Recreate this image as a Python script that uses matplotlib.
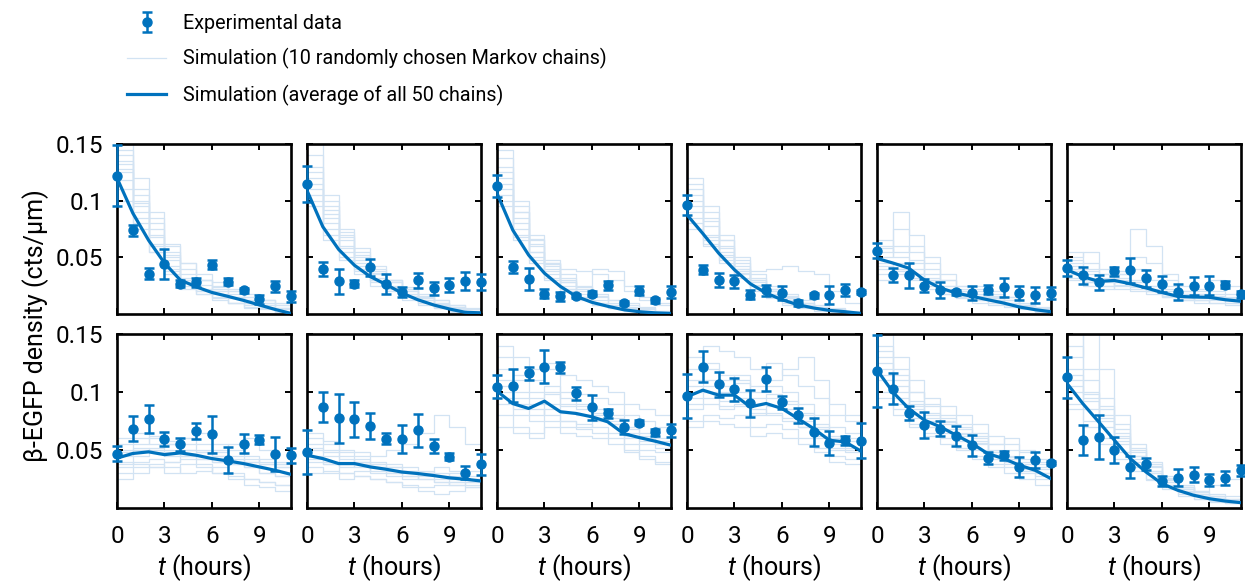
import numpy as np
import matplotlib
matplotlib.use('Agg')
import matplotlib.pyplot as plt

plt.rcParams['font.family'] = ['Roboto', 'DejaVu Sans']
plt.rcParams['mathtext.fontset'] = 'custom'
plt.rcParams['mathtext.it'] = 'Roboto:italic'
plt.rcParams['mathtext.rm'] = 'Roboto'

# ---------------- data ----------------
hours = list(range(12))
xtick_vals = [0, 3, 6, 9]
xtick_labels = ['0', '3', '6', '9']
ytick_vals = [0.05, 0.1, 0.15]
ytick_labels = ['0.05', '0.1', '0.15']

legend_labels = ['Experimental data',
                 'Simulation (10 randomly chosen Markov chains)',
                 'Simulation (average of all 50 chains)']
ylabel_text = 'β-EGFP density (cts/μm)'
xlabel_text = '$t$ (hours)'

# experimental means (cts/um), 12 panels row by row
exp_mean = [
    [0.122, 0.0737, 0.0355, 0.0443, 0.0267, 0.028, 0.0434, 0.0285, 0.0208, 0.0132, 0.0244, 0.0156],
    [0.1145, 0.0396, 0.0288, 0.0267, 0.0414, 0.0264, 0.0194, 0.0296, 0.0226, 0.0258, 0.0288, 0.028],
    [0.113, 0.0414, 0.0308, 0.0179, 0.0156, 0.016, 0.018, 0.0252, 0.0097, 0.0205, 0.012, 0.0194],
    [0.0963, 0.039, 0.030, 0.0288, 0.017, 0.0208, 0.0185, 0.0097, 0.0164, 0.0164, 0.0214, 0.0194],
    [0.056, 0.0346, 0.034, 0.025, 0.0208, 0.019, 0.0185, 0.0214, 0.0235, 0.0185, 0.017, 0.0185],
    [0.0405, 0.034, 0.028, 0.0376, 0.0385, 0.0317, 0.0267, 0.0194, 0.025, 0.025, 0.0258, 0.0173],
    [0.0469, 0.0685, 0.0766, 0.0593, 0.055, 0.0665, 0.0636, 0.0412, 0.0556, 0.059, 0.0464, 0.0455],
    [0.0484, 0.0872, 0.0772, 0.0763, 0.0705, 0.0599, 0.0593, 0.067, 0.0535, 0.044, 0.0305, 0.0377],
    [0.1045, 0.1054, 0.116, 0.1218, 0.1212, 0.0988, 0.0867, 0.0815, 0.070, 0.0737, 0.0651, 0.067],
    [0.0964, 0.1218, 0.1065, 0.1022, 0.0901, 0.1111, 0.091, 0.080, 0.0656, 0.0561, 0.0584, 0.0579],
    [0.1183, 0.103, 0.082, 0.0714, 0.0685, 0.0622, 0.0541, 0.0432, 0.0455, 0.0354, 0.0412, 0.0389],
    [0.1126, 0.0585, 0.0613, 0.0498, 0.0354, 0.0377, 0.0233, 0.0262, 0.0288, 0.0239, 0.0259, 0.0325],
]
exp_err = [
    [0.027, 0.005, 0.005, 0.013, 0.003, 0.004, 0.004, 0.003, 0.002, 0.004, 0.005, 0.005],
    [0.016, 0.006, 0.011, 0.003, 0.0075, 0.009, 0.004, 0.0065, 0.006, 0.006, 0.008, 0.007],
    [0.010, 0.005, 0.0095, 0.004, 0.004, 0.002, 0.002, 0.004, 0.002, 0.004, 0.002, 0.005],
    [0.009, 0.004, 0.006, 0.006, 0.004, 0.005, 0.006, 0.003, 0.002, 0.008, 0.0055, 0.002],
    [0.007, 0.006, 0.011, 0.0055, 0.007, 0.002, 0.006, 0.004, 0.0085, 0.006, 0.007, 0.005],
    [0.007, 0.0075, 0.0065, 0.004, 0.011, 0.0075, 0.007, 0.007, 0.008, 0.0085, 0.003, 0.003],
    [0.0063, 0.0104, 0.0122, 0.006, 0.0056, 0.0068, 0.016, 0.011, 0.0078, 0.004, 0.0144, 0.0063],
    [0.019, 0.0127, 0.021, 0.015, 0.011, 0.0045, 0.0122, 0.0144, 0.0063, 0.003, 0.0055, 0.009],
    [0.0098, 0.0143, 0.0058, 0.0144, 0.005, 0.0058, 0.0108, 0.004, 0.0058, 0.002, 0.003, 0.0058],
    [0.0187, 0.0133, 0.0105, 0.0098, 0.012, 0.0102, 0.0058, 0.0063, 0.0118, 0.0105, 0.004, 0.015],
    [0.031, 0.013, 0.0062, 0.0112, 0.0068, 0.0086, 0.009, 0.005, 0.004, 0.0086, 0.0069, 0.002],
    [0.0177, 0.0127, 0.0187, 0.011, 0.0096, 0.005, 0.004, 0.0072, 0.0063, 0.0053, 0.0058, 0.0046],
]
# simulation average of all chains (cts/um)
sim_avg = [
    [0.120, 0.089, 0.065, 0.045, 0.030, 0.024, 0.019, 0.0156, 0.012, 0.008, 0.004, 0.0005],
    [0.109, 0.077, 0.057, 0.043, 0.033, 0.026, 0.0185, 0.0126, 0.008, 0.0044, 0.0015, 0.001],
    [0.1065, 0.074, 0.052, 0.036, 0.0244, 0.0156, 0.0103, 0.0068, 0.0038, 0.002, 0.001, 0.0005],
    [0.0875, 0.071, 0.0537, 0.039, 0.0267, 0.0185, 0.0126, 0.0082, 0.0053, 0.0032, 0.002, 0.0005],
    [0.049, 0.045, 0.0405, 0.030, 0.023, 0.0185, 0.0156, 0.0126, 0.0097, 0.0062, 0.0038, 0.002],
    [0.039, 0.033, 0.0288, 0.0296, 0.0267, 0.023, 0.019, 0.0156, 0.015, 0.0147, 0.0126, 0.0112],
    [0.043, 0.047, 0.0484, 0.046, 0.0475, 0.0455, 0.0426, 0.0406, 0.0383, 0.0354, 0.0325, 0.029],
    [0.0455, 0.0426, 0.0383, 0.0383, 0.0354, 0.0334, 0.031, 0.0297, 0.028, 0.026, 0.0248, 0.0233],
    [0.1008, 0.090, 0.0858, 0.0921, 0.083, 0.0815, 0.0786, 0.0743, 0.0642, 0.0607, 0.0576, 0.0541],
    [0.0959, 0.1016, 0.0973, 0.0973, 0.0872, 0.0901, 0.0858, 0.0772, 0.0685, 0.0584, 0.057, 0.049],
    [0.119, 0.100, 0.0858, 0.0757, 0.070, 0.0628, 0.0556, 0.0469, 0.0426, 0.0369, 0.0325, 0.0253],
    [0.1074, 0.090, 0.0743, 0.0584, 0.0426, 0.031, 0.021, 0.0153, 0.011, 0.008, 0.006, 0.0046],
]
# 10 Markov chains per panel, hourly values in units of 0.001 cts/um
chains = [
    [[140, 110, 80, 55, 40, 30, 25, 20, 15, 10, 8, 5],
     [125, 85, 62, 40, 28, 20, 24, 15, 10, 12, 5, 3],
     [150, 120, 90, 60, 45, 35, 28, 22, 18, 12, 10, 5],
     [110, 80, 55, 35, 22, 18, 12, 10, 8, 5, 2, 0],
     [135, 100, 75, 50, 35, 30, 20, 15, 12, 10, 5, 2],
     [118, 95, 70, 48, 30, 22, 18, 18, 12, 8, 5, 0],
     [145, 90, 60, 42, 28, 20, 15, 10, 5, 5, 2, 0],
     [128, 105, 85, 62, 45, 30, 22, 20, 15, 12, 8, 4],
     [100, 75, 55, 38, 25, 18, 14, 10, 6, 4, 2, 0],
     [132, 98, 68, 52, 32, 26, 20, 14, 10, 6, 4, 2]],
    [[130, 95, 70, 50, 38, 30, 22, 15, 10, 6, 3, 2],
     [115, 80, 55, 45, 30, 25, 18, 12, 8, 5, 2, 0],
     [150, 105, 75, 55, 42, 30, 20, 15, 10, 5, 3, 1],
     [100, 70, 50, 38, 30, 22, 15, 10, 6, 2, 0, 0],
     [120, 88, 65, 48, 36, 28, 22, 16, 12, 8, 5, 3],
     [110, 75, 60, 40, 32, 24, 16, 10, 5, 3, 2, 0],
     [140, 100, 68, 52, 35, 28, 20, 14, 9, 6, 4, 2],
     [95, 65, 48, 35, 25, 20, 12, 8, 5, 2, 1, 0],
     [125, 92, 72, 58, 40, 30, 24, 18, 12, 8, 4, 2],
     [105, 85, 58, 42, 28, 22, 18, 12, 7, 4, 2, 1]],
    [[130, 90, 65, 45, 35, 25, 18, 12, 8, 5, 3, 1],
     [110, 70, 50, 35, 22, 15, 10, 6, 4, 2, 1, 0],
     [145, 100, 70, 48, 40, 38, 35, 30, 20, 12, 8, 4],
     [100, 65, 45, 30, 20, 12, 8, 5, 3, 1, 0, 0],
     [120, 85, 60, 42, 28, 18, 12, 8, 5, 3, 2, 1],
     [95, 75, 55, 38, 25, 20, 40, 38, 25, 15, 10, 5],
     [125, 80, 55, 40, 28, 15, 10, 8, 5, 3, 1, 0],
     [115, 90, 62, 45, 30, 22, 15, 10, 6, 4, 2, 1],
     [105, 68, 48, 32, 22, 14, 8, 5, 3, 2, 1, 0],
     [138, 95, 66, 44, 32, 24, 16, 12, 10, 6, 3, 2]],
    [[110, 85, 65, 45, 32, 22, 15, 10, 6, 4, 2, 1],
     [95, 70, 55, 40, 28, 20, 14, 8, 5, 3, 2, 0],
     [120, 95, 70, 50, 38, 40, 42, 38, 35, 20, 10, 5],
     [85, 65, 48, 35, 22, 15, 10, 6, 4, 2, 1, 0],
     [100, 78, 60, 42, 30, 22, 16, 10, 6, 4, 2, 1],
     [80, 68, 52, 38, 25, 18, 12, 7, 4, 2, 1, 0],
     [105, 90, 65, 48, 35, 25, 18, 12, 8, 5, 3, 2],
     [90, 60, 45, 32, 20, 14, 8, 5, 3, 2, 1, 0],
     [115, 82, 58, 40, 30, 20, 14, 10, 6, 3, 2, 1],
     [75, 62, 50, 36, 26, 18, 12, 8, 5, 3, 2, 1]],
    [[60, 75, 55, 40, 30, 22, 18, 15, 12, 8, 5, 3],
     [45, 40, 35, 28, 20, 15, 12, 10, 8, 5, 3, 2],
     [55, 90, 70, 50, 35, 25, 20, 16, 12, 8, 5, 3],
     [40, 35, 30, 25, 18, 15, 12, 10, 8, 5, 3, 1],
     [65, 55, 60, 45, 30, 25, 22, 18, 15, 10, 6, 4],
     [35, 45, 40, 30, 22, 18, 15, 12, 10, 6, 4, 2],
     [58, 50, 45, 35, 25, 20, 25, 20, 15, 8, 5, 3],
     [42, 38, 32, 22, 18, 14, 10, 8, 6, 4, 2, 1],
     [50, 60, 48, 32, 25, 20, 16, 14, 10, 7, 5, 3],
     [30, 40, 35, 28, 20, 16, 14, 12, 8, 5, 3, 2]],
    [[45, 40, 35, 38, 50, 45, 30, 20, 18, 16, 14, 12],
     [35, 30, 25, 28, 25, 20, 18, 15, 12, 14, 12, 10],
     [50, 55, 40, 35, 75, 60, 35, 25, 20, 18, 15, 12],
     [40, 35, 30, 25, 22, 20, 15, 12, 10, 12, 10, 8],
     [30, 25, 22, 28, 30, 25, 20, 18, 22, 30, 25, 18],
     [55, 45, 35, 32, 28, 22, 18, 14, 12, 10, 8, 7],
     [38, 32, 28, 35, 40, 30, 25, 20, 18, 15, 12, 10],
     [42, 28, 25, 22, 20, 18, 15, 12, 15, 20, 18, 15],
     [48, 38, 32, 30, 28, 25, 22, 18, 16, 14, 12, 10],
     [32, 28, 30, 26, 24, 20, 16, 14, 12, 10, 10, 9]],
    [[50, 55, 60, 55, 50, 48, 45, 42, 40, 38, 35, 30],
     [35, 40, 42, 40, 45, 42, 40, 38, 35, 30, 28, 25],
     [60, 65, 55, 50, 60, 65, 55, 50, 45, 40, 38, 35],
     [30, 35, 38, 35, 30, 32, 35, 30, 25, 22, 20, 18],
     [45, 50, 52, 58, 55, 50, 48, 55, 60, 50, 40, 35],
     [40, 38, 35, 40, 42, 38, 30, 28, 25, 22, 20, 15],
     [55, 60, 62, 55, 60, 55, 50, 45, 40, 42, 38, 32],
     [25, 30, 35, 30, 38, 35, 30, 25, 20, 18, 15, 15],
     [48, 52, 50, 48, 45, 42, 45, 40, 35, 30, 28, 25],
     [38, 45, 48, 45, 50, 48, 40, 38, 42, 38, 35, 30]],
    [[55, 50, 45, 40, 38, 35, 32, 30, 28, 25, 22, 20],
     [40, 38, 35, 38, 32, 30, 28, 25, 22, 20, 18, 15],
     [60, 55, 50, 48, 45, 50, 55, 65, 80, 70, 55, 45],
     [35, 30, 25, 28, 25, 22, 20, 18, 20, 22, 25, 22],
     [50, 48, 42, 40, 35, 32, 30, 28, 25, 22, 20, 18],
     [45, 40, 38, 35, 30, 28, 25, 30, 35, 32, 28, 25],
     [65, 58, 48, 45, 40, 38, 35, 32, 30, 28, 25, 22],
     [30, 32, 30, 28, 25, 22, 18, 15, 12, 15, 18, 20],
     [52, 45, 40, 42, 38, 35, 32, 30, 28, 30, 32, 28],
     [42, 38, 30, 32, 35, 30, 28, 25, 22, 20, 22, 18]],
    [[120, 110, 100, 105, 95, 90, 85, 80, 70, 65, 60, 55],
     [90, 80, 75, 85, 75, 72, 70, 65, 55, 50, 48, 45],
     [140, 130, 120, 125, 115, 110, 105, 100, 90, 85, 80, 75],
     [80, 70, 65, 75, 70, 68, 65, 60, 50, 45, 40, 35],
     [110, 95, 90, 100, 88, 85, 82, 78, 68, 62, 58, 55],
     [100, 90, 85, 80, 75, 70, 75, 72, 60, 55, 52, 50],
     [130, 115, 110, 120, 100, 98, 95, 90, 80, 75, 70, 65],
     [70, 65, 60, 70, 65, 62, 60, 55, 48, 42, 38, 32],
     [105, 100, 95, 98, 90, 88, 80, 75, 65, 60, 55, 52],
     [95, 85, 80, 90, 82, 80, 78, 72, 62, 58, 55, 50]],
    [[110, 120, 115, 110, 100, 105, 100, 90, 80, 70, 65, 55],
     [85, 90, 85, 88, 80, 82, 78, 70, 60, 50, 48, 42],
     [130, 140, 135, 130, 120, 125, 115, 105, 95, 80, 75, 65],
     [75, 80, 78, 80, 70, 72, 68, 60, 52, 45, 42, 38],
     [100, 105, 100, 100, 90, 95, 90, 80, 70, 60, 58, 50],
     [90, 95, 88, 90, 85, 80, 75, 70, 62, 52, 50, 45],
     [120, 125, 110, 115, 105, 110, 120, 130, 110, 90, 80, 70],
     [70, 75, 72, 70, 62, 65, 60, 55, 48, 40, 38, 32],
     [105, 110, 105, 108, 95, 98, 92, 82, 72, 62, 60, 52],
     [95, 100, 92, 95, 82, 88, 85, 75, 68, 55, 52, 45]],
    [[140, 120, 100, 90, 80, 72, 65, 55, 50, 42, 38, 30],
     [110, 90, 78, 70, 65, 58, 50, 42, 38, 32, 28, 20],
     [150, 130, 110, 95, 88, 80, 72, 62, 55, 48, 42, 35],
     [100, 85, 72, 65, 60, 52, 45, 38, 35, 30, 25, 18],
     [125, 105, 92, 80, 75, 68, 60, 50, 45, 40, 35, 28],
     [115, 95, 85, 75, 68, 62, 55, 48, 42, 35, 30, 22],
     [135, 115, 100, 88, 78, 70, 62, 55, 60, 50, 40, 32],
     [95, 80, 70, 62, 55, 50, 42, 35, 30, 25, 20, 15],
     [120, 100, 88, 78, 72, 65, 58, 48, 44, 38, 34, 26],
     [130, 110, 90, 82, 74, 64, 56, 46, 40, 34, 30, 24]],
    [[130, 150, 120, 80, 55, 40, 28, 20, 15, 12, 10, 8],
     [100, 85, 70, 55, 40, 30, 20, 15, 10, 8, 6, 4],
     [150, 120, 95, 72, 52, 38, 26, 18, 14, 10, 8, 6],
     [90, 75, 60, 48, 35, 25, 18, 12, 8, 6, 4, 3],
     [115, 95, 80, 62, 48, 35, 24, 18, 15, 20, 25, 18],
     [105, 100, 85, 65, 45, 32, 22, 16, 12, 9, 7, 5],
     [140, 110, 88, 68, 50, 36, 25, 18, 12, 10, 8, 6],
     [85, 70, 55, 42, 32, 24, 16, 10, 8, 5, 4, 3],
     [120, 98, 78, 60, 45, 32, 22, 16, 12, 9, 7, 5],
     [110, 92, 75, 58, 42, 30, 20, 14, 10, 8, 6, 4]],
]

# ---------------- styling / layout ----------------
W, H = 1245, 584
blue = '#0072BD'
light = '#d2e3f3'
col_left = [117, 307, 497, 687, 877, 1067]
row_span = [(144, 314), (334, 508)]
panel_w = 174

fig = plt.figure(figsize=(W / 100, H / 100), dpi=100)

handles = None
for i in range(12):
    r, c = divmod(i, 6)
    top, bot = row_span[r]
    ax = fig.add_axes([col_left[c] / W, 1 - bot / H, panel_w / W, (bot - top) / H])
    chain_line = None
    for ch in chains[i]:
        chain_line, = ax.plot(hours, np.array(ch) / 1000.0, drawstyle='steps-post',
                              color=light, lw=0.9, zorder=1)
    avg_line, = ax.plot(hours, sim_avg[i], color=blue, lw=2.3, zorder=3)
    eb = ax.errorbar(hours, exp_mean[i], yerr=exp_err[i], fmt='o', color=blue,
                     ms=6.5, elinewidth=1.8, capsize=3.5, capthick=1.8, zorder=5,
                     clip_on=False)
    for art in list(eb.lines[1]) + list(eb.lines[2]):
        art.set_clip_on(False)
    if handles is None:
        handles = [eb, chain_line, avg_line]

    ax.set_xlim(0, 11)
    ax.set_ylim(0, 0.15)
    ax.set_xticks(xtick_vals)
    ax.set_yticks(ytick_vals)
    for s in ax.spines.values():
        s.set_linewidth(1.9)
    ax.tick_params(direction='in', top=True, right=True, length=4.5, width=1.4,
                   labelsize=17.5)
    ax.tick_params(axis='x', pad=12)
    ax.tick_params(axis='y', pad=10)
    if c == 0:
        ax.set_yticklabels(ytick_labels)
    else:
        ax.tick_params(labelleft=False)
    if r == 1:
        ax.set_xticklabels(xtick_labels)
        ax.set_xlabel(xlabel_text, fontsize=18, labelpad=3)
    else:
        ax.tick_params(labelbottom=False)

fig.text(36 / W, 1 - 326 / H, ylabel_text, rotation=90, ha='center', va='center',
         fontsize=18)

fig.legend(handles=handles, labels=legend_labels, loc='upper left',
           bbox_to_anchor=(113 / W, 1 - 0 / H), frameon=False, fontsize=14.2,
           handlelength=2.0, labelspacing=0.78, handletextpad=0.85,
           borderpad=0.2)

fig.savefig('out.png', dpi=100)
